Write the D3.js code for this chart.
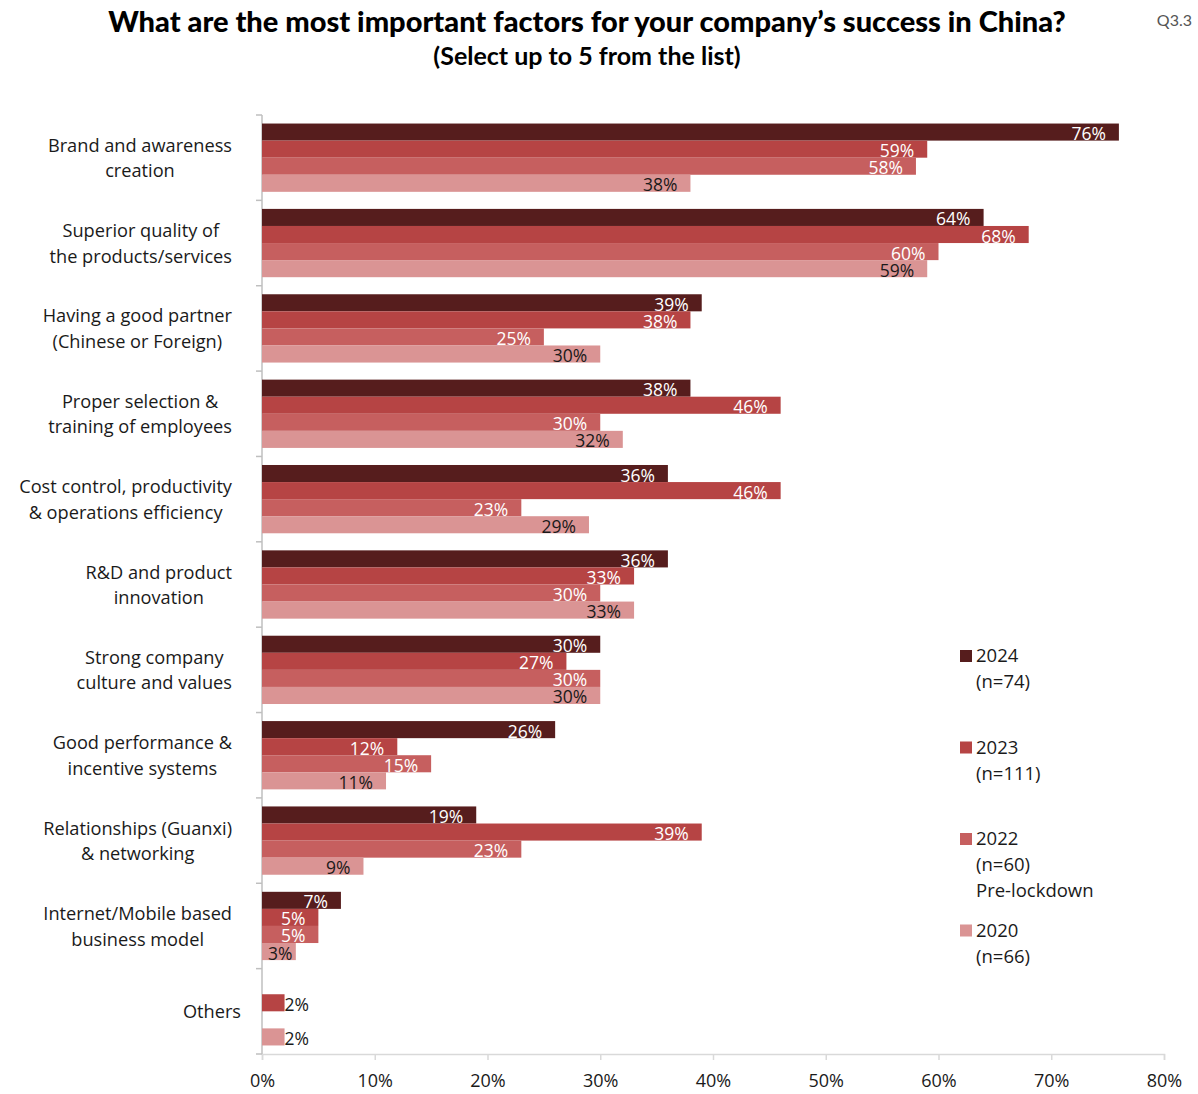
<!DOCTYPE html>
<html>
<head>
<meta charset="utf-8">
<script src="https://cdn.jsdelivr.net/npm/d3@7"></script>
<style>
  html, body { margin: 0; padding: 0; background: #fff; }
  svg { display: block; }
</style>
</head>
<body>
<svg id="chart" width="1198" height="1094"></svg>
<script>
// Survey factors (two-line axis labels split with "\n")
const categories = [
  "Brand and awareness\ncreation",
  "Superior quality of\nthe products/services",
  "Having a good partner\n(Chinese or Foreign)",
  "Proper selection &\ntraining of employees",
  "Cost control, productivity\n& operations efficiency",
  "R&D and product\ninnovation",
  "Strong company\nculture and values",
  "Good performance &\nincentive systems",
  "Relationships (Guanxi)\n& networking",
  "Internet/Mobile based\nbusiness model",
  "Others"
];

const seriesKeys = ["2024", "2023", "2022", "2020"];

// Share of respondents (%) per year; null = not asked / no bar
const values2024 = [76, 64, 39, 38, 36, 36, 30, 26, 19, 7, null];
const values2023 = [59, 68, 38, 46, 46, 33, 27, 12, 39, 5, 2];
const values2022 = [58, 60, 25, 30, 23, 30, 30, 15, 23, 5, null];
const values2020 = [38, 59, 30, 32, 29, 33, 30, 11, 9, 3, 2];

const legendLines = [
  ["2024", "(n=74)"],
  ["2023", "(n=111)"],
  ["2022", "(n=60)", "Pre-lockdown"],
  ["2020", "(n=66)"]
];

const xTicks = [0, 10, 20, 30, 40, 50, 60, 70, 80];

const colors = { "2024": "#561d1d", "2023": "#b64444", "2022": "#c65f5f", "2020": "#da9494" };
const labelColors = { "2024": "#ffffff", "2023": "#ffffff", "2022": "#ffffff", "2020": "#1a1a1a" };

const seriesValues = { "2024": values2024, "2023": values2023, "2022": values2022, "2020": values2020 };

const FONT = "'Open Sans', 'Noto Sans', sans-serif";

const svg = d3.select("#chart");

// Title block
svg.append("text")
  .attr("x", 587).attr("y", 32)
  .attr("text-anchor", "middle")
  .style("font-family", "Lato, sans-serif")
  .style("font-weight", 900)
  .style("font-size", "29px")
  .attr("fill", "#000")
  .text("What are the most important factors for your company\u2019s success in China?");

svg.append("text")
  .attr("x", 587).attr("y", 65)
  .attr("text-anchor", "middle")
  .style("font-family", "Lato, sans-serif")
  .style("font-weight", 700)
  .style("font-size", "25px")
  .attr("fill", "#000")
  .text("(Select up to 5 from the list)");

svg.append("text")
  .attr("x", 1192).attr("y", 26)
  .attr("text-anchor", "end")
  .style("font-family", "Lato, sans-serif")
  .style("font-size", "16px")
  .attr("fill", "#555")
  .text("Q3.3");

// Scales
const x = d3.scaleLinear().domain([0, 80]).range([262, 1164]);
const y0 = d3.scaleBand().domain(categories).range([115, 1054]).paddingInner(0).paddingOuter(0);
const y1 = d3.scaleBand().domain(seriesKeys).range([0, y0.bandwidth()]).paddingInner(0).paddingOuter(0.5);

// X axis
const xAxis = svg.append("g")
  .attr("transform", "translate(0,1054)")
  .call(d3.axisBottom(x).tickValues(xTicks).tickFormat(d => d + "%").tickSize(6).tickPadding(14));
xAxis.select(".domain").attr("stroke", "#d9d9d9").attr("stroke-width", 1.5);
xAxis.selectAll(".tick line").attr("stroke", "#d9d9d9").attr("stroke-width", 1.5);
xAxis.selectAll(".tick text")
  .style("font-family", FONT).style("font-size", "18px").attr("fill", "#1a1a1a");

// Y axis line with ticks at band boundaries
const yAxisG = svg.append("g");
yAxisG.append("line")
  .attr("x1", 262).attr("x2", 262).attr("y1", 115).attr("y2", 1054)
  .attr("stroke", "#bfbfbf").attr("stroke-width", 1.5);
const boundaries = categories.map(c => y0(c)).concat([y0.range()[1]]);
yAxisG.selectAll("line.tk").data(boundaries).join("line")
  .attr("class", "tk")
  .attr("x1", 256).attr("x2", 262)
  .attr("y1", d => d).attr("y2", d => d)
  .attr("stroke", "#bfbfbf").attr("stroke-width", 1.5);

// Category labels: multi-line, lines centred within a block right-aligned to the axis
const catG = svg.append("g")
  .style("font-family", FONT).style("font-size", "18.2px").attr("fill", "#1a1a1a");
categories.forEach(c => {
  const lines = c.split("\n");
  const cy = y0(c) + y0.bandwidth() / 2;
  const t = catG.append("text").attr("text-anchor", "middle");
  const lh = 25.5;
  const first = cy + 6.8 - (lines.length - 1) * lh / 2;
  lines.forEach((ln, i) => {
    t.append("tspan").attr("y", first + i * lh).text(ln);
  });
  // measure widest line to right-align the block
  let maxW = 0;
  t.selectAll("tspan").each(function () { maxW = Math.max(maxW, this.getComputedTextLength()); });
  const rightEdge = lines.length === 1 ? 241 : 232;
  t.selectAll("tspan").attr("x", rightEdge - maxW / 2);
});

// Bars
const rows = categories.map((c, i) => ({
  cat: c,
  items: seriesKeys.map(k => ({ key: k, value: seriesValues[k][i] }))
}));

const groups = svg.append("g").selectAll("g")
  .data(rows).join("g")
  .attr("transform", d => `translate(0,${y0(d.cat)})`);

groups.selectAll("rect")
  .data(d => d.items.filter(e => e.value != null))
  .join("rect")
  .attr("x", x(0))
  .attr("y", d => y1(d.key))
  .attr("width", d => x(d.value) - x(0))
  .attr("height", y1.bandwidth())
  .attr("fill", d => colors[d.key]);

// Value labels: inside end when they fit, otherwise just outside the bar
groups.selectAll("text")
  .data(d => d.items.filter(e => e.value != null))
  .join("text")
  .style("font-family", FONT).style("font-size", "17.5px")
  .attr("y", d => y1(d.key) + y1.bandwidth() / 2 + 8)
  .text(d => d.value + "%")
  .each(function (d) {
    const w = this.getComputedTextLength();
    const len = x(d.value) - x(0);
    const sel = d3.select(this);
    if (len < w) {
      sel.attr("text-anchor", "start").attr("x", x(d.value)).attr("fill", "#1a1a1a");
    } else {
      const xr = Math.max(x(d.value) - 13, x(0) + 6 + w);
      sel.attr("text-anchor", "end").attr("x", Math.min(xr, x(d.value)))
        .attr("fill", labelColors[d.key]);
    }
  });

// Legend
const legend = svg.append("g")
  .style("font-family", FONT).style("font-size", "18.5px").attr("fill", "#1a1a1a");
const legendTop = 662, legendStep = 91.5, legendLine = 26;
legendLines.forEach((lines, i) => {
  const by = legendTop + i * legendStep;
  legend.append("rect")
    .attr("x", 960).attr("y", by - 12).attr("width", 12).attr("height", 12)
    .attr("fill", colors[seriesKeys[i]]);
  const t = legend.append("text");
  lines.forEach((ln, j) => {
    t.append("tspan").attr("x", 976).attr("y", by + j * legendLine).text(ln);
  });
});
</script>
</body>
</html>
